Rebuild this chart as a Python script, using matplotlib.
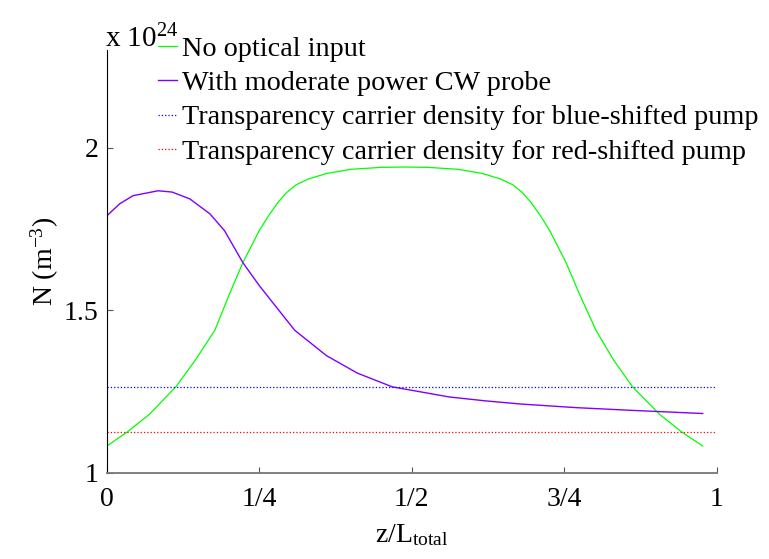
import numpy as np
import matplotlib
matplotlib.use('Agg')
import matplotlib.pyplot as plt

#DATA (N in units of 1e24 m^-3, z normalised to L_total)
z_green = [0, 0.034, 0.07, 0.113, 0.145, 0.177, 0.2, 0.223, 0.25, 0.265, 0.28, 0.295, 0.31, 0.33, 0.36, 0.40,
           0.45, 0.488, 0.526, 0.576, 0.616, 0.646, 0.666, 0.681, 0.696, 0.711, 0.726, 0.753, 0.776, 0.802,
           0.831, 0.862, 0.906, 0.942, 0.977]
n_green = [1.082, 1.126, 1.18, 1.264, 1.346, 1.438, 1.545, 1.646, 1.745, 1.79, 1.83, 1.862, 1.885, 1.903, 1.92,
           1.933, 1.939, 1.94, 1.939, 1.933, 1.92, 1.903, 1.885, 1.862, 1.83, 1.79, 1.745, 1.646, 1.545, 1.438,
           1.346, 1.264, 1.18, 1.126, 1.082]

z_probe = [0, 0.021, 0.043, 0.084, 0.107, 0.136, 0.169, 0.193, 0.223, 0.25, 0.308, 0.36, 0.411, 0.468,
           0.561, 0.62, 0.68, 0.77, 0.857, 0.977]
n_probe = [1.79, 1.827, 1.852, 1.867, 1.863, 1.842, 1.796, 1.744, 1.646, 1.575, 1.438, 1.36, 1.306, 1.264,
           1.233, 1.221, 1.211, 1.2, 1.192, 1.182]

n_tr_blue = 1.265
n_tr_red = 1.126

labels = ['No optical input', 'With moderate power CW probe',
          'Transparency carrier density for blue-shifted pump',
          'Transparency carrier density for red-shifted pump']
xticks = [0, 0.25, 0.5, 0.75, 1]
xticklabels = ['0', '1/4', '1/2', '3/4', '1']
yticks = [1, 1.5, 2]
yticklabels = ['1', '1.5', '2']

#FONT
plt.rcParams['font.family'] = 'Liberation Serif'
plt.rcParams['mathtext.fontset'] = 'custom'
plt.rcParams['mathtext.rm'] = 'Liberation Serif'
plt.rcParams['mathtext.it'] = 'Liberation Serif'

fig = plt.figure(figsize=(7.69, 5.59), dpi=100)
ax = fig.add_axes([0.139, 0.1544, 0.793, 0.7562])

ax.plot(z_green, n_green, color='#00ff00', lw=0.9, label=labels[0])
ax.plot(z_probe, n_probe, color='#7f00ff', lw=1.0, label=labels[1])
ax.axhline(n_tr_blue, color='#0000ff', lw=0.9, ls=':', label=labels[2])
ax.axhline(n_tr_red, color='#ff0000', lw=0.9, ls=':', label=labels[3])

ax.set_xlim(0, 1)
ax.set_ylim(1, 2.3)
ax.set_xticks(xticks)
ax.set_xticklabels(xticklabels)
ax.set_yticks(yticks)
ax.set_yticklabels(yticklabels)
ax.tick_params(direction='in', length=4, labelsize=20, color='#555555')
ax.tick_params(axis='x', pad=10)
ax.tick_params(axis='y', pad=6)

for s in ['top', 'right']:
    ax.spines[s].set_visible(False)
ax.spines['left'].set_color('black')
ax.spines['bottom'].set_color('#777777')
ax.spines['bottom'].set_linewidth(1.3)

ax.set_xlabel(r'z/L$_{\rm total}$', fontsize=20, labelpad=8)
ax.set_ylabel(r'N (m$^{-3}$)', fontsize=20, labelpad=2)

fig.text(0.136, 0.916, r'x 10$^{24}$', fontsize=21, ha='left', va='baseline')

ax.legend(loc='upper left', bbox_to_anchor=(0.206, 0.935), bbox_transform=fig.transFigure,
          frameon=False, fontsize=20.3, handlelength=0.65, handletextpad=0.2,
          labelspacing=0.3, borderaxespad=0, borderpad=0)

fig.savefig('out.png', dpi=100)
